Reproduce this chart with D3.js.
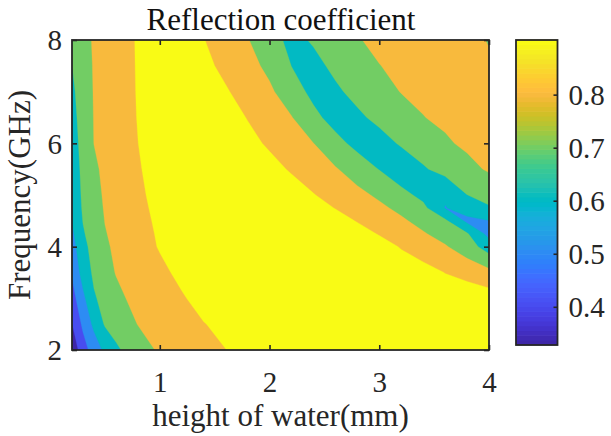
<!DOCTYPE html>
<html><head><meta charset="utf-8">
<script src="https://cdn.jsdelivr.net/npm/d3@7"></script>
<style>
body{margin:0;background:#fff}
text{font-family:"Liberation Serif","Times New Roman",serif;fill:#262626}
</style>
</head><body>
<svg id="chart" width="611" height="436" font-family="Liberation Serif, Times New Roman, serif"></svg>
<script>
// ---- data ----
const heights = [0.2,0.3,0.4,0.5,0.6,0.8,1.0,1.2,1.4,1.6,1.8,2.0,2.2,2.4,2.6,2.8,3.0,3.2,3.4,3.6,3.8,4.0];
const freqs = [2,2.5,3,3.5,4,4.25,4.5,4.75,5,5.5,6,6.5,7,7.5,8];
// one row per frequency (bottom to top), one value per height
const reflection = [
 [0.328,0.457,0.545,0.620,0.682,0.759,0.812,0.841,0.870,0.899,0.925,0.940,0.950,0.950,0.950,0.950,0.950,0.950,0.950,0.950,0.955,0.950],
 [0.397,0.520,0.622,0.709,0.741,0.802,0.833,0.865,0.897,0.920,0.935,0.945,0.950,0.950,0.950,0.950,0.950,0.950,0.950,0.955,0.965,0.955],
 [0.459,0.576,0.689,0.732,0.775,0.830,0.862,0.892,0.928,0.945,0.950,0.950,0.950,0.950,0.950,0.950,0.950,0.950,0.950,0.950,0.970,0.949],
 [0.512,0.640,0.718,0.764,0.804,0.842,0.881,0.919,0.940,0.950,0.950,0.950,0.950,0.950,0.950,0.950,0.950,0.950,0.934,0.898,0.863,0.827],
 [0.558,0.671,0.735,0.785,0.816,0.861,0.906,0.935,0.950,0.950,0.950,0.950,0.950,0.950,0.950,0.950,0.936,0.894,0.851,0.809,0.748,0.653],
 [0.581,0.690,0.745,0.795,0.820,0.866,0.911,0.940,0.950,0.950,0.950,0.950,0.950,0.950,0.950,0.936,0.894,0.851,0.809,0.760,0.709,0.568],
 [0.602,0.703,0.754,0.802,0.825,0.871,0.917,0.940,0.950,0.950,0.950,0.950,0.950,0.950,0.935,0.895,0.855,0.815,0.768,0.717,0.578,0.598],
 [0.609,0.713,0.764,0.807,0.830,0.877,0.923,0.945,0.950,0.950,0.950,0.950,0.950,0.936,0.897,0.859,0.820,0.776,0.724,0.596,0.640,0.690],
 [0.617,0.719,0.771,0.811,0.834,0.882,0.930,0.950,0.950,0.950,0.950,0.950,0.943,0.904,0.865,0.826,0.783,0.732,0.672,0.612,0.699,0.735],
 [0.633,0.727,0.784,0.818,0.842,0.891,0.940,0.950,0.950,0.950,0.950,0.931,0.890,0.849,0.808,0.754,0.697,0.632,0.689,0.734,0.775,0.810],
 [0.649,0.737,0.801,0.825,0.850,0.899,0.950,0.950,0.950,0.950,0.928,0.886,0.843,0.801,0.731,0.671,0.662,0.711,0.750,0.789,0.815,0.830],
 [0.664,0.744,0.803,0.828,0.853,0.903,0.950,0.950,0.950,0.942,0.896,0.850,0.804,0.725,0.662,0.682,0.724,0.761,0.798,0.815,0.825,0.820],
 [0.680,0.750,0.805,0.830,0.855,0.905,0.950,0.950,0.950,0.909,0.862,0.816,0.746,0.674,0.684,0.727,0.765,0.803,0.815,0.825,0.825,0.815],
 [0.699,0.758,0.807,0.832,0.857,0.906,0.950,0.950,0.923,0.877,0.832,0.777,0.699,0.673,0.721,0.758,0.799,0.810,0.820,0.825,0.820,0.805],
 [0.712,0.767,0.810,0.834,0.858,0.907,0.950,0.950,0.903,0.854,0.805,0.741,0.673,0.710,0.755,0.797,0.810,0.820,0.823,0.820,0.810,0.798]
];
const levels = [0.3,0.4,0.5,0.6,0.7,0.8,0.9];
const colorLimits = [0.328, 0.903];
const xTicks = [1,2,3,4];
const yTicks = [2,4,6,8];
const cbTicks = [0.4,0.5,0.6,0.7,0.8];
const titleText = "Reflection coefficient";
const xLabel = "height of water(mm)";
const yLabel = "Frequency(GHz)";
// MATLAB parula (64)
const parula = [
[0.2422,0.1504,0.6603],[0.2504,0.1650,0.7076],[0.2578,0.1818,0.7511],[0.2647,0.1978,0.7952],
[0.2706,0.2147,0.8364],[0.2751,0.2342,0.8710],[0.2783,0.2559,0.8991],[0.2803,0.2782,0.9221],
[0.2813,0.3006,0.9414],[0.2810,0.3228,0.9579],[0.2795,0.3447,0.9717],[0.2760,0.3667,0.9829],
[0.2699,0.3892,0.9906],[0.2602,0.4123,0.9952],[0.2440,0.4358,0.9988],[0.2206,0.4603,0.9973],
[0.1963,0.4847,0.9892],[0.1834,0.5074,0.9798],[0.1786,0.5289,0.9682],[0.1764,0.5499,0.9520],
[0.1687,0.5703,0.9359],[0.1540,0.5902,0.9218],[0.1460,0.6091,0.9079],[0.1380,0.6276,0.8973],
[0.1248,0.6459,0.8883],[0.1113,0.6635,0.8763],[0.0952,0.6798,0.8598],[0.0689,0.6948,0.8394],
[0.0297,0.7082,0.8163],[0.0036,0.7203,0.7917],[0.0067,0.7312,0.7660],[0.0433,0.7411,0.7394],
[0.0964,0.7500,0.7120],[0.1408,0.7584,0.6842],[0.1717,0.7670,0.6554],[0.1938,0.7758,0.6251],
[0.2161,0.7843,0.5923],[0.2470,0.7918,0.5567],[0.2906,0.7973,0.5188],[0.3406,0.8008,0.4789],
[0.3909,0.8029,0.4354],[0.4456,0.8024,0.3909],[0.5044,0.7993,0.3480],[0.5616,0.7942,0.3045],
[0.6174,0.7876,0.2612],[0.6720,0.7793,0.2227],[0.7242,0.7698,0.1910],[0.7738,0.7598,0.1646],
[0.8203,0.7498,0.1535],[0.8634,0.7406,0.1596],[0.9035,0.7330,0.1774],[0.9393,0.7288,0.2100],
[0.9728,0.7298,0.2394],[0.9956,0.7434,0.2371],[0.9970,0.7659,0.2199],[0.9952,0.7893,0.2028],
[0.9892,0.8136,0.1885],[0.9786,0.8386,0.1766],[0.9676,0.8639,0.1643],[0.9610,0.8890,0.1537],
[0.9597,0.9135,0.1423],[0.9628,0.9373,0.1265],[0.9691,0.9606,0.1064],[0.9769,0.9839,0.0805]
];

// ---- layout ----
const plot = {left:72, right:489, top:40, bottom:350};
const cb = {left:516, right:557.5, top:40, bottom:345};
const serif = '"Liberation Serif","Times New Roman",serif';

const svg = d3.select("#chart");
const x = d3.scaleLinear().domain([heights[0], heights[heights.length-1]]).range([plot.left, plot.right]);
const y = d3.scaleLinear().domain([freqs[0], freqs[freqs.length-1]]).range([plot.bottom, plot.top]);

const rgb = c => d3.rgb(c[0]*255, c[1]*255, c[2]*255).formatHex();
const cmap = v => {
  const k = Math.floor((v - colorLimits[0]) / (colorLimits[1] - colorLimits[0]) * parula.length);
  return rgb(parula[Math.max(0, Math.min(parula.length-1, k))]);
};

// ---- filled contours ----
const n = heights.length, m = freqs.length;
const values = [];
for (let j = 0; j < m; j++) for (let i = 0; i < n; i++) values.push(reflection[j][i]);
const contours = d3.contours().size([n, m]).thresholds(levels)(values);
const hIdx = d3.scaleLinear().domain(d3.range(n)).range(heights).clamp(true);
const fIdx = d3.scaleLinear().domain(d3.range(m)).range(freqs).clamp(true);
const proj = d3.geoTransform({point(px, py){ this.stream.point(x(hIdx(px - 0.5)), y(fIdx(py - 0.5))); }});
const path = d3.geoPath(proj);

svg.append("defs").append("clipPath").attr("id","pc").append("rect")
  .attr("x", plot.left).attr("y", plot.top).attr("width", plot.right-plot.left).attr("height", plot.bottom-plot.top);

svg.append("g").attr("clip-path","url(#pc)")
  .selectAll("path").data(contours).join("path")
  .attr("d", path)
  .attr("fill", d => cmap(d.value))
  .attr("stroke", d => cmap(d.value))
  .attr("stroke-width", 0.3);

// ---- axes ----
const axisColor = "#262626";
const fs = 29;
const styleAxis = g => {
  g.attr("font-family", serif).attr("font-size", fs);
  g.select(".domain").remove();
  g.selectAll("line").attr("stroke", axisColor).attr("stroke-width", 1.6);
  g.selectAll("text").attr("font-size", fs).attr("fill", axisColor).style("font-family", serif);
};
const gx = svg.append("g").attr("transform", `translate(0,${plot.bottom})`)
  .call(d3.axisBottom(x).tickValues(xTicks).tickFormat(d3.format("d")).tickSize(-5).tickPadding(21)).call(styleAxis);
svg.append("g").attr("transform", `translate(0,${plot.top})`)
  .call(d3.axisTop(x).tickValues(xTicks).tickFormat("").tickSize(-5)).call(styleAxis);
const gy = svg.append("g").attr("transform", `translate(${plot.left},0)`)
  .call(d3.axisLeft(y).tickValues(yTicks).tickFormat(d3.format("d")).tickSize(-5).tickPadding(10)).call(styleAxis);
svg.append("g").attr("transform", `translate(${plot.right},0)`)
  .call(d3.axisRight(y).tickValues(yTicks).tickFormat("").tickSize(-5)).call(styleAxis);
gy.selectAll("text").attr("dy", "0.34em");

svg.append("rect").attr("x", plot.left).attr("y", plot.top)
  .attr("width", plot.right-plot.left).attr("height", plot.bottom-plot.top)
  .attr("fill","none").attr("stroke", axisColor).attr("stroke-width", 1.8);

// ---- colorbar ----
const cy = d3.scaleLinear().domain(colorLimits).range([cb.bottom, cb.top]);
const step = (colorLimits[1]-colorLimits[0]) / parula.length;
svg.append("g").selectAll("rect").data(parula).join("rect")
  .attr("x", cb.left).attr("width", cb.right-cb.left)
  .attr("y", (d,i) => cy(colorLimits[0] + (i+1)*step) - 0.3)
  .attr("height", (d,i) => cy(colorLimits[0] + i*step) - cy(colorLimits[0] + (i+1)*step) + 0.6)
  .attr("fill", d => rgb(d));
const gc = svg.append("g").attr("transform", `translate(${cb.right},0)`)
  .call(d3.axisRight(cy).tickValues(cbTicks).tickFormat(d3.format(".1f")).tickSize(-4).tickPadding(11)).call(styleAxis);
gc.selectAll("text").attr("dy","0.34em");
svg.append("rect").attr("x", cb.left).attr("y", cb.top)
  .attr("width", cb.right-cb.left).attr("height", cb.bottom-cb.top)
  .attr("fill","none").attr("stroke", axisColor).attr("stroke-width", 1.8);

// ---- labels ----
svg.append("text").attr("x", (plot.left+plot.right)/2 + 0.5).attr("y", 30)
  .attr("text-anchor","middle").attr("font-size", 31).style("fill","#111").text(titleText);
svg.append("text").attr("x", (plot.left+plot.right)/2).attr("y", 426)
  .attr("text-anchor","middle").attr("font-size", 31).text(xLabel);
svg.append("text").attr("transform", `translate(30,${(plot.top+plot.bottom)/2}) rotate(-90)`)
  .attr("text-anchor","middle").attr("font-size", 31).text(yLabel);
</script>
</body></html>
